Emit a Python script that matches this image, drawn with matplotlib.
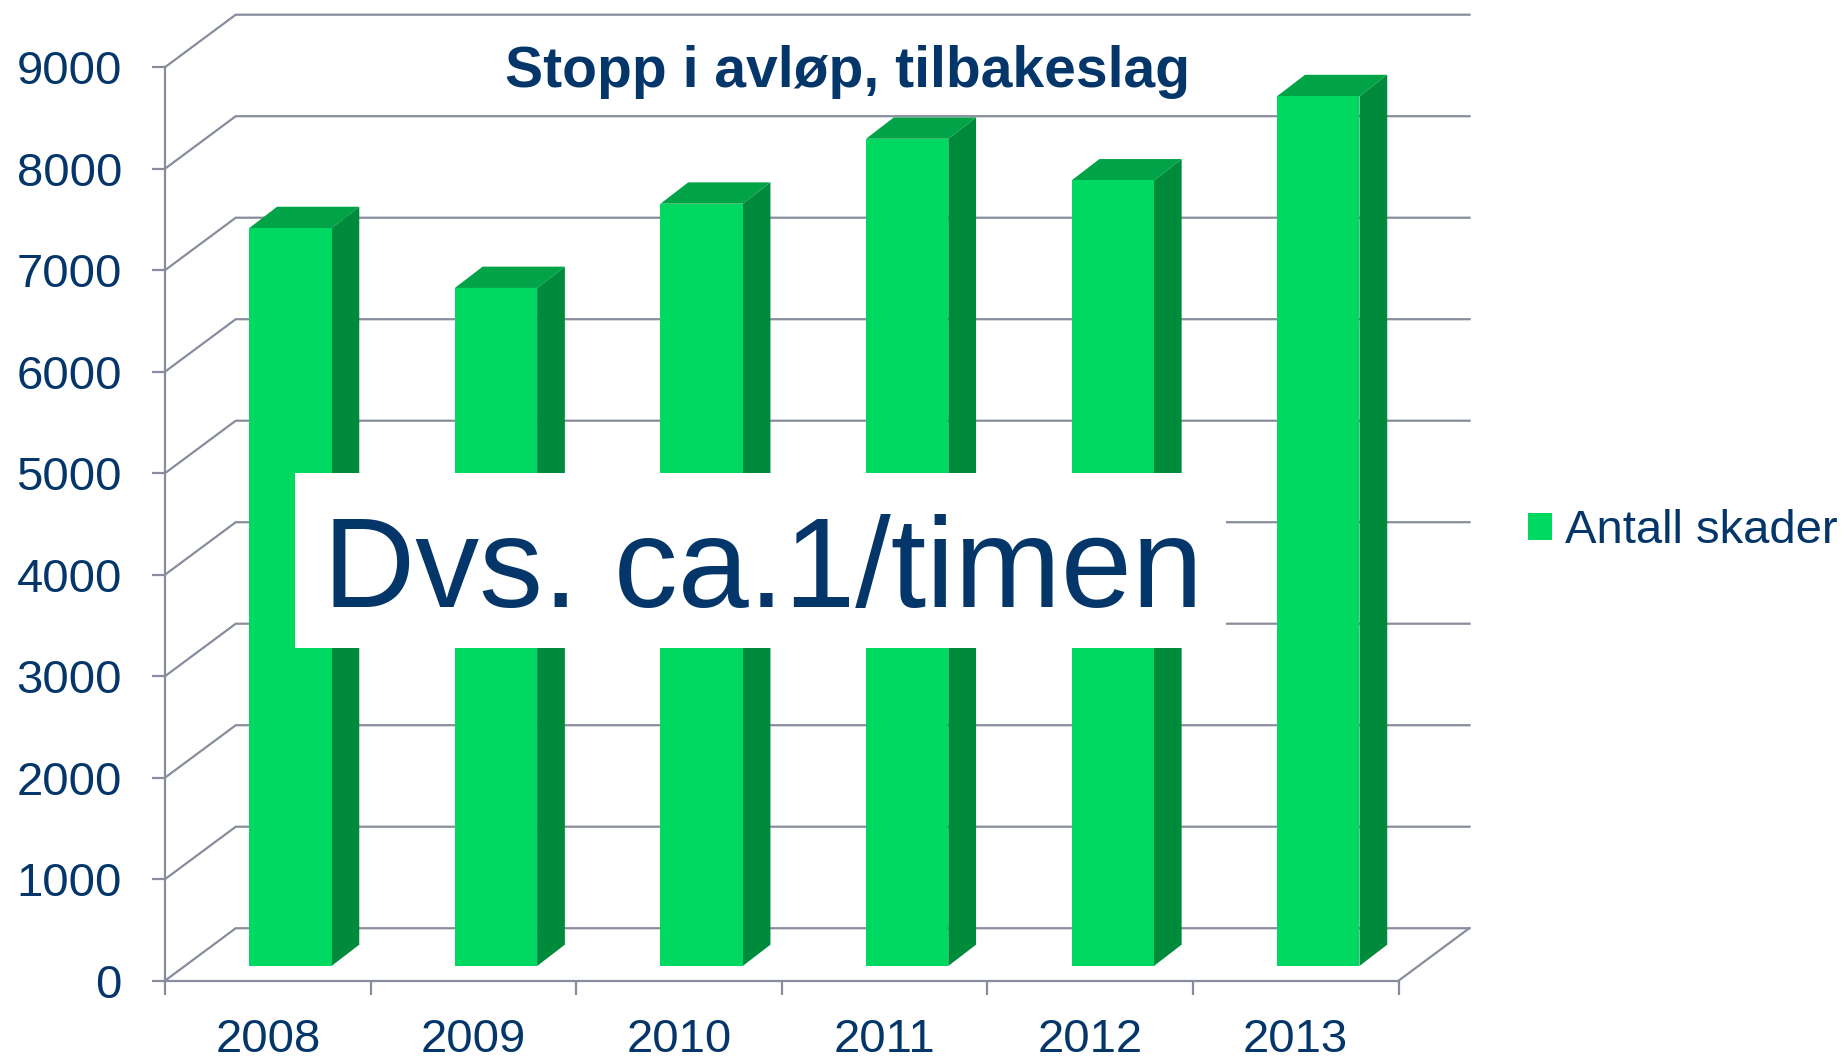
import matplotlib
matplotlib.use("Agg")
import matplotlib.pyplot as plt
from matplotlib.patches import Polygon, Rectangle
import numpy as np

# ---- data ----
years = ['2008', '2009', '2010', '2011', '2012', '2013']
antall_skader = [7270, 6680, 7510, 8150, 7740, 8570]
y_ticks = [0, 1000, 2000, 3000, 4000, 5000, 6000, 7000, 8000, 9000]
title = 'Stopp i avløp, tilbakeslag'
series_name = 'Antall skader'
note = 'Dvs. ca.1/timen'

# ---- style ----
plt.rcParams['font.family'] = ['Liberation Sans', 'DejaVu Sans']
NAVY = '#04366A'
GRID = '#888D9D'
FRONT = '#00D961'
TOP = '#00A346'
SIDE = '#008A3B'

W, H = 1846, 1059
fig = plt.figure(figsize=(W / 100, H / 100), dpi=100)

# axes: front y-axis at x=165px, value 0 at y=980.7px (from top)
ax = fig.add_axes([165 / W, (H - 980.7) / H, 1305.7 / W, 966.7 / H])
ax.set_xlim(-0.5, 5.851)
ax.set_ylim(0, 9524)
ax.patch.set_visible(False)

# depth geometry (data units)
DX, DY = 0.344, 517          # wall depth
BX, BY = 0.11, 145           # bar front-face offset
BW = 0.4                     # bar width
SDX, SDY = 0.135, 210        # bar depth

n = len(years)
xs = np.arange(n)
x_left, x_right = -0.5, n - 0.5
x_end = ax.get_xlim()[1]

# gridlines (side wall diagonal + back wall horizontal)
for v in y_ticks:
    ax.plot([x_left, x_left + DX, x_end], [v, v + DY, v + DY],
            color=GRID, lw=1.6, zorder=1, clip_on=False, solid_capstyle='butt')
# right floor edge
ax.plot([x_right, x_right + DX], [0, DY], color=GRID, lw=1.6, zorder=1, clip_on=False)

# bars
bars = ax.bar(xs + BX, antall_skader, width=BW, bottom=BY, color=FRONT,
              zorder=3, label=series_name, linewidth=0)
for x, v in zip(xs + BX, antall_skader):
    xl, xr = x - BW / 2, x + BW / 2
    top = BY + v
    ax.add_patch(Polygon([(xr, BY), (xr + SDX, BY + SDY), (xr + SDX, top + SDY), (xr, top)],
                         closed=True, facecolor=SIDE, edgecolor='none', zorder=2.9))
    ax.add_patch(Polygon([(xl, top), (xr, top), (xr + SDX, top + SDY), (xl + SDX, top + SDY)],
                         closed=True, facecolor=TOP, edgecolor='none', zorder=2.9))

# spines and ticks
for s in ['top', 'right']:
    ax.spines[s].set_visible(False)
ax.spines['left'].set_bounds(0, y_ticks[-1])
ax.spines['bottom'].set_bounds(x_left, x_right)
for s in ['left', 'bottom']:
    ax.spines[s].set_color(GRID)
    ax.spines[s].set_linewidth(1.6)

ax.set_yticks(y_ticks)
ax.set_yticklabels([str(t) for t in y_ticks])
ax.tick_params(axis='y', direction='out', length=9.5, width=1.6, color=GRID,
               pad=21.5, labelsize=34, labelcolor=NAVY)

ax.set_xticks(np.arange(x_left, x_right + 0.01, 1.0))
ax.set_xticklabels([])
ax.set_xticks(xs, minor=True)
ax.set_xticklabels(years, minor=True)
ax.tick_params(axis='x', which='major', direction='out', length=10, width=1.6, color=GRID)
ax.tick_params(axis='x', which='minor', length=0, pad=27, labelsize=34, labelcolor=NAVY)

# title
fig.text(847.5 / W, (H - 87) / H, title, ha='center', va='baseline',
         fontsize=41, fontweight='bold', color=NAVY)

# legend
fig.legend(handles=[bars], labels=[series_name], loc='center left',
           bbox_to_anchor=(1528 / W, (H - 531) / H), frameon=False,
           fontsize=34, handlelength=0.51, handleheight=0.51, handletextpad=0.28,
           borderpad=0, borderaxespad=0, labelcolor=NAVY)

# white note box with large text
fig.add_artist(Rectangle((295 / W, (H - 647.7) / H), (1226 - 295) / W, 175 / H,
                         transform=fig.transFigure, facecolor='white',
                         edgecolor='none', zorder=5))
fig.text(323 / W, (H - 606.7) / H, note, ha='left', va='baseline',
         fontsize=92, color=NAVY, zorder=6)

fig.savefig('out.png', dpi=100)
